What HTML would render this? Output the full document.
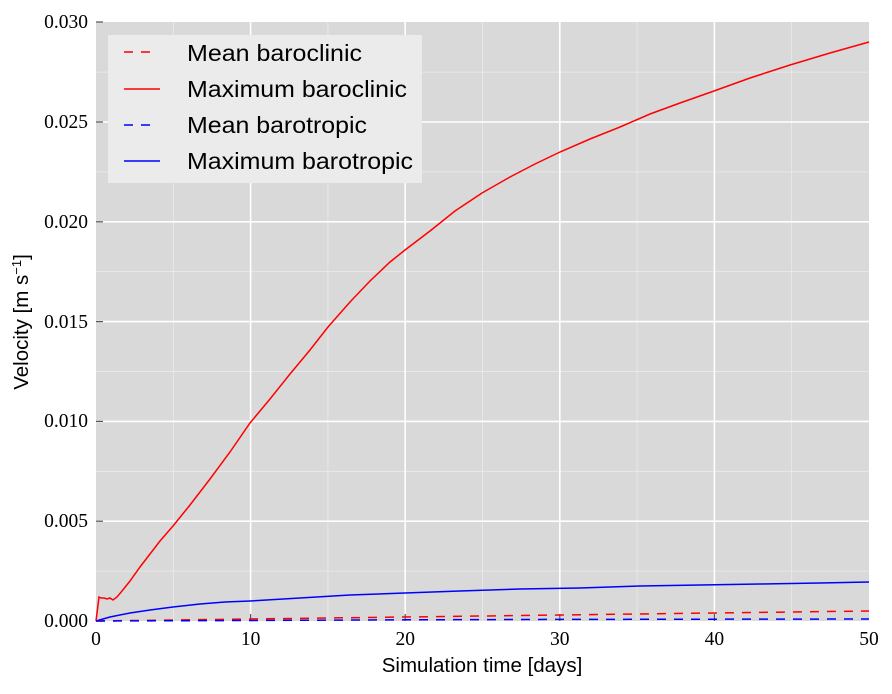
<!DOCTYPE html>
<html><head><style>body{margin:0;background:#fff}svg text{font-family:"Liberation Serif",serif}svg text.s{font-family:"Liberation Sans",sans-serif}</style></head><body>
<svg width="892" height="689" xmlns="http://www.w3.org/2000/svg">
<rect x="96" y="22" width="773" height="599" fill="#d9d9d9"/>
<g stroke="#ececec" stroke-width="0.8">
<line x1="173.3" y1="22" x2="173.3" y2="621"/><line x1="327.9" y1="22" x2="327.9" y2="621"/><line x1="482.5" y1="22" x2="482.5" y2="621"/><line x1="637.1" y1="22" x2="637.1" y2="621"/><line x1="791.7" y1="22" x2="791.7" y2="621"/>
<line x1="96" y1="571.1" x2="869" y2="571.1"/><line x1="96" y1="471.3" x2="869" y2="471.3"/><line x1="96" y1="371.5" x2="869" y2="371.5"/><line x1="96" y1="271.7" x2="869" y2="271.7"/><line x1="96" y1="171.9" x2="869" y2="171.9"/><line x1="96" y1="72.1" x2="869" y2="72.1"/>
</g>
<g stroke="#fff" stroke-width="1.6">
<line x1="250.6" y1="22" x2="250.6" y2="621"/><line x1="405.2" y1="22" x2="405.2" y2="621"/><line x1="559.8" y1="22" x2="559.8" y2="621"/><line x1="714.4" y1="22" x2="714.4" y2="621"/>
<line x1="96" y1="521.2" x2="869" y2="521.2"/><line x1="96" y1="421.4" x2="869" y2="421.4"/><line x1="96" y1="321.6" x2="869" y2="321.6"/><line x1="96" y1="221.8" x2="869" y2="221.8"/><line x1="96" y1="122" x2="869" y2="122"/>
</g>
<g stroke="#555" stroke-width="1.2">
<line x1="96" y1="22" x2="103" y2="22"/><line x1="96" y1="122" x2="103" y2="122"/><line x1="96" y1="221.8" x2="103" y2="221.8"/><line x1="96" y1="321.6" x2="103" y2="321.6"/><line x1="96" y1="421.4" x2="103" y2="421.4"/><line x1="96" y1="521.2" x2="103" y2="521.2"/><line x1="96" y1="621" x2="103" y2="621"/>
<line x1="250.6" y1="621" x2="250.6" y2="614"/><line x1="405.2" y1="621" x2="405.2" y2="614"/><line x1="559.8" y1="621" x2="559.8" y2="614"/><line x1="714.4" y1="621" x2="714.4" y2="614"/>
</g>
<g fill="none" stroke-width="1.5">
<polyline stroke="#f00" points="96,621 99,597 101,598 104,598 107,599 110,598 113,600 117,597 122,591 130,581 140,567 150,554 160,541 173,526 190,505 210,479 230,452 250,423 270,399 290,374 310,350 328,327 350,302 370,281 390,262 405,250 430,231 455,211 482,193 510,177 535,164 560,152 590,139 620,127 650,114 680,103 714,91 750,78 790,65 830,53 869,42"/>
<polyline stroke="#00f" points="96,621 110,617 130,613 150,610 173,607 200,604 225,602 250,601 300,598 350,595 405,593 460,591 520,589 580,588 640,586 700,585 760,584 820,583 869,582"/>
<polyline stroke="#f00" stroke-dasharray="9,8" points="96,621 250,619 405,617 560,615 714,613 869,611"/>
<polyline stroke="#00f" stroke-dasharray="9,8" points="96,621 250,620.5 405,619.8 560,619.4 714,619.2 869,619"/>
</g>
<rect x="108" y="35" width="314" height="148" fill="#ebebeb"/>
<line x1="124" y1="52" x2="158" y2="52" stroke="#f00" stroke-width="1.5" stroke-dasharray="9,8"/>
<line x1="124" y1="89" x2="160" y2="89" stroke="#f00" stroke-width="1.5"/>
<line x1="124" y1="125" x2="158" y2="125" stroke="#00f" stroke-width="1.5" stroke-dasharray="9,8"/>
<line x1="124" y1="161" x2="160" y2="161" stroke="#00f" stroke-width="1.5"/>
<g font-size="23" fill="#000">
<text class="s" x="187" y="61" textLength="175" lengthAdjust="spacingAndGlyphs">Mean baroclinic</text><text class="s" x="187" y="97" textLength="220" lengthAdjust="spacingAndGlyphs">Maximum baroclinic</text><text class="s" x="187" y="133" textLength="180" lengthAdjust="spacingAndGlyphs">Mean barotropic</text><text class="s" x="187" y="169" textLength="226" lengthAdjust="spacingAndGlyphs">Maximum barotropic</text>
</g>
<g font-size="19.5" text-anchor="end">
<text x="88" y="28">0.030</text><text x="88" y="128">0.025</text><text x="88" y="228">0.020</text><text x="88" y="328">0.015</text><text x="88" y="427">0.010</text><text x="88" y="527">0.005</text><text x="88" y="627">0.000</text>
</g>
<g font-size="19.5" text-anchor="middle">
<text x="96" y="645">0</text><text x="250.6" y="645">10</text><text x="405.2" y="645">20</text><text x="559.8" y="645">30</text><text x="714.4" y="645">40</text><text x="869" y="645">50</text>
</g>
<text class="s" x="482" y="672" font-size="20.5" text-anchor="middle">Simulation time [days]</text>
<text class="s" transform="translate(28,322) rotate(-90)" font-size="20.5" text-anchor="middle">Velocity [m s<tspan dy="-7" font-size="13">−1</tspan><tspan dy="7">]</tspan></text>
</svg>
</body></html>
